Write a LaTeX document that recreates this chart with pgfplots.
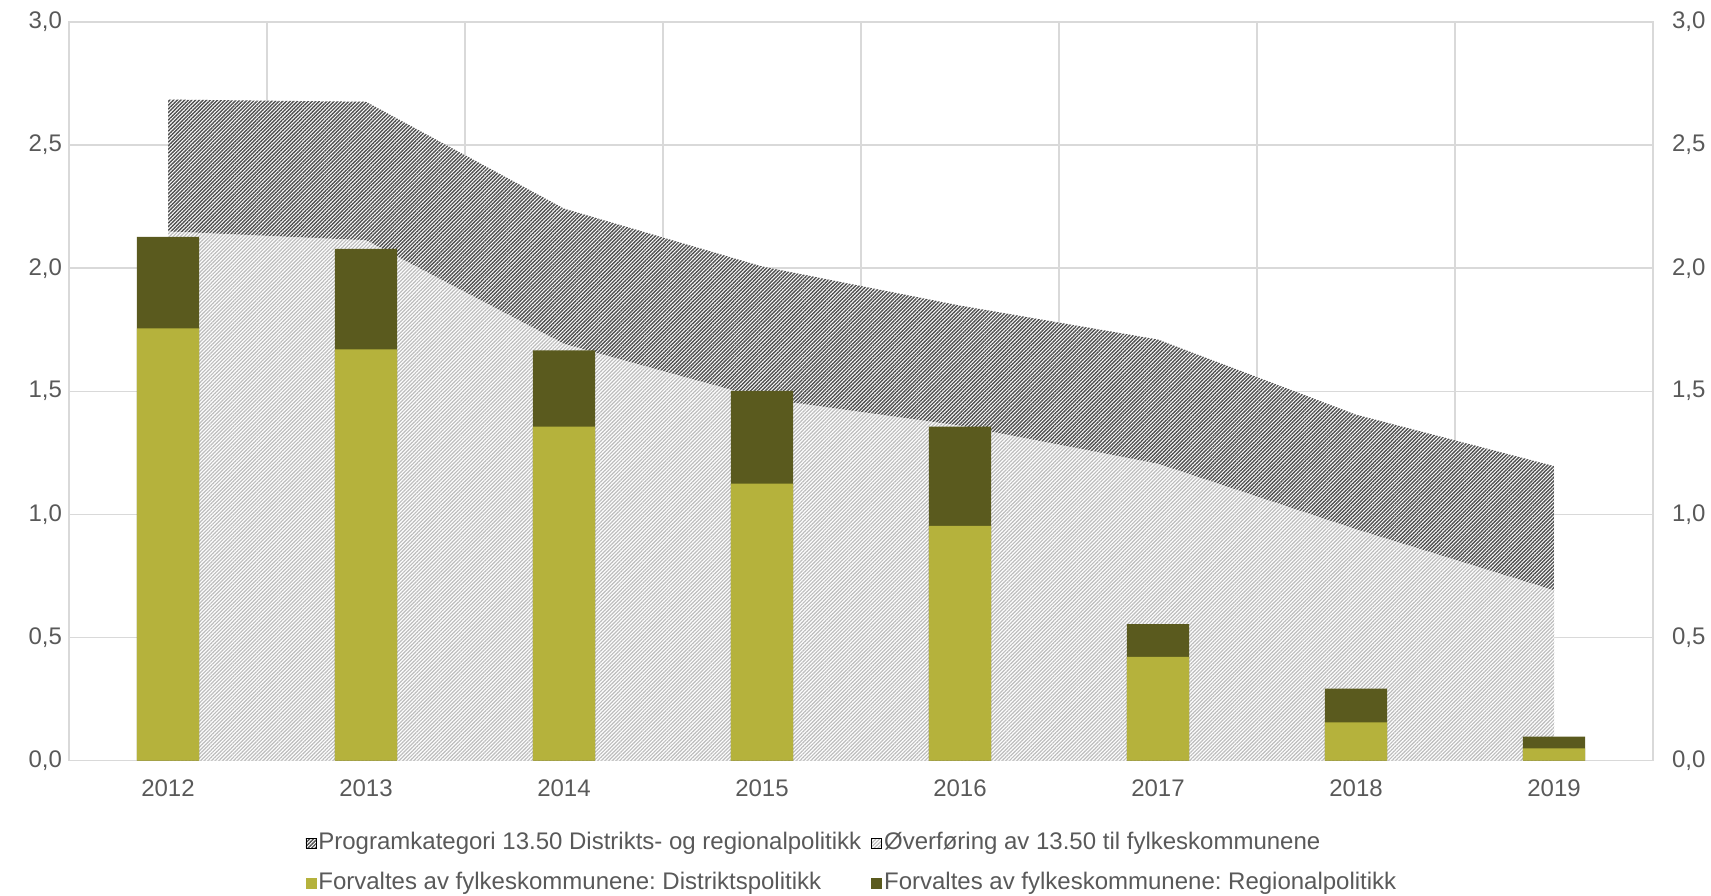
\documentclass[border=0pt]{standalone}
\usepackage{pgfplots}
\pgfplotsset{compat=1.18}
\usepackage{fontspec}
\setmainfont{Liberation Sans}
\usetikzlibrary{patterns.meta}
\definecolor{lol}{HTML}{B5B23C}
\definecolor{dol}{HTML}{5A5A1E}
\definecolor{hdark}{HTML}{505050}
\definecolor{hlight}{HTML}{BDBDBD}
\definecolor{gridc}{HTML}{D9D9D9}
\definecolor{txt}{HTML}{595959}
\newcommand{\fs}{\fontsize{12}{14}\selectfont}
\frenchspacing
\tikzset{
  darkhatch/.style={pattern={Lines[angle=45,distance=1.3pt,line width=0.7pt]}, pattern color=hdark},
  lighthatch/.style={pattern={Lines[angle=45,distance=1.3pt,line width=0.6pt]}, pattern color=hlight},
}
\pgfplotsset{
  numfmt/.style={/pgf/number format/fixed, /pgf/number format/fixed zerofill,
    /pgf/number format/precision=1, /pgf/number format/use comma,
    /pgf/number format/assume math mode=true},
}
\begin{document}
\frenchspacing
\begin{tikzpicture}
\useasboundingbox (-34.5pt,-67.25pt) rectangle (821pt,380.25pt);
\begin{axis}[
  scale only axis, width=792pt, height=369.25pt,
  xmin=-0.5, xmax=7.5, ymin=0, ymax=3,
  xtick={0,1,2,3,4,5,6,7},
  xticklabels={2012,2013,2014,2015,2016,2017,2018,2019},
  minor xtick={-0.5,0.5,1.5,2.5,3.5,4.5,5.5,6.5,7.5},
  xminorgrids=true, xmajorgrids=false, ymajorgrids=true,
  grid style={gridc, line width=0.7pt},
  minor grid style={gridc, line width=0.7pt},
  major tick length=0pt, minor tick length=0pt,
  ytick={0,0.5,1,1.5,2,2.5,3},
  yticklabel style={numfmt},
  axis line style={gridc, line width=0.7pt},
  tick label style={font=\fs, text=txt},
  xticklabel style={yshift=-6pt},
  legend columns=2,
  legend cell align=left,
  legend style={at={(0.4943,-0.1397)}, anchor=center, draw=none, fill=none,
    font=\fs, text=txt, row sep=7pt,
    nodes={inner sep=1pt, text height=8.5pt, text depth=2.5pt},
    /tikz/every even column/.append style={column sep=4pt}},
]
% Programkategori 13.50 (total)
\addplot[draw=none, fill=white, postaction={darkhatch}, forget plot] coordinates {
 (0,2.685) (1,2.676) (2,2.242) (3,2.007) (4,1.848) (5,1.710) (6,1.405) (7,1.196)} \closedcycle;
% Overforing av 13.50 til fylkeskommunene
\addplot[draw=none, fill=white, postaction={lighthatch}, forget plot] coordinates {
 (0,2.149) (1,2.113) (2,1.692) (3,1.471) (4,1.360) (5,1.205) (6,0.939) (7,0.691)} \closedcycle;
% Forvaltes: total (Distriktspolitikk + Regionalpolitikk)
\addplot[ybar, bar width=0.314, bar shift=0pt, fill=dol, draw=none, forget plot] coordinates {
 (0,2.127) (1,2.078) (2,1.666) (3,1.502) (4,1.356) (5,0.554) (6,0.292) (7,0.097)};
% Forvaltes: Distriktspolitikk
\addplot[ybar, bar width=0.314, bar shift=0pt, fill=lol, draw=none, forget plot] coordinates {
 (0,1.755) (1,1.670) (2,1.356) (3,1.125) (4,0.953) (5,0.421) (6,0.155) (7,0.049)};

\addlegendimage{legend image code/.code={\fill[white] (-1.5pt,-2.5pt) rectangle (3.5pt,2.5pt); \fill[darkhatch] (-1.5pt,-2.5pt) rectangle (3.5pt,2.5pt);}}
\addlegendentry{Programkategori 13.50 Distrikts- og regionalpolitikk}
\addlegendimage{legend image code/.code={\fill[white] (-1.5pt,-2.5pt) rectangle (3.5pt,2.5pt); \fill[lighthatch] (-1.5pt,-2.5pt) rectangle (3.5pt,2.5pt);}}
\addlegendentry{Øverføring av 13.50 til fylkeskommunene}
\addlegendimage{legend image code/.code={\fill[lol] (-1.5pt,-2.5pt) rectangle (3.5pt,2.5pt);}}
\addlegendentry{Forvaltes av fylkeskommunene: Distriktspolitikk}
\addlegendimage{legend image code/.code={\fill[dol] (-1.5pt,-2.5pt) rectangle (3.5pt,2.5pt);}}
\addlegendentry{Forvaltes av fylkeskommunene: Regionalpolitikk}
\end{axis}
\begin{axis}[
  scale only axis, width=792pt, height=369.25pt,
  xmin=-0.5, xmax=7.5, ymin=0, ymax=3,
  axis x line=none, axis y line*=right,
  axis line style={draw=none},
  major tick length=0pt,
  ytick={0,0.5,1,1.5,2,2.5,3},
  yticklabel style={numfmt, xshift=6pt},
  tick label style={font=\fs, text=txt},
]
\addplot[draw=none, forget plot] coordinates {(0,0)};
\end{axis}
\end{tikzpicture}
\end{document}
